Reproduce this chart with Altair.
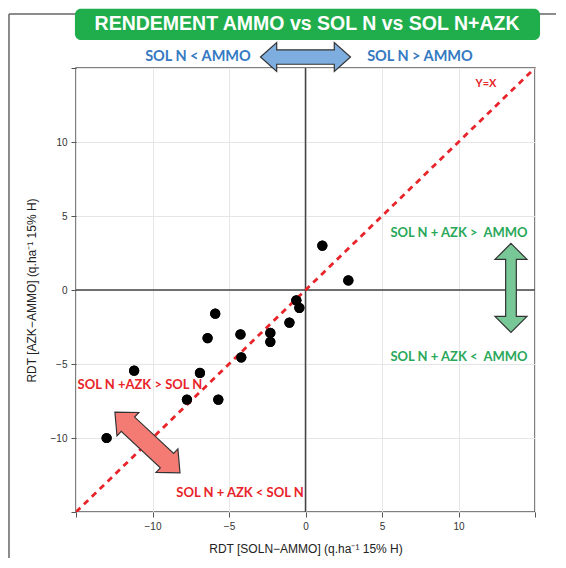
import altair as alt
import pandas as pd

# ---- data ----
x_diff = [1.1, 2.8, -0.6, -0.4, -1.05, -2.3, -2.3, -4.25, -4.2, -5.9, -6.4, -6.9, -7.75, -5.7, -11.2, -13.0]
y_diff = [3.0, 0.65, -0.7, -1.2, -2.2, -2.9, -3.5, -3.0, -4.55, -1.6, -3.25, -5.6, -7.4, -7.4, -5.45, -10.0]

axis_ticks = [-15, -10, -5, 0, 5, 10, 15]
domain = [-15, 15]

title_text = "RENDEMENT AMMO vs SOL N vs SOL N+AZK"
x_title = "RDT [SOLN\u2212AMMO] (q.ha\u207b\u00b9 15% H)"
y_title = "RDT [AZK\u2212AMMO] (q.ha\u207b\u00b9 15% H)"

note_text = ["SOL N < AMMO", "SOL N > AMMO", "Y=X", "SOL N + AZK >\u00a0 AMMO", "SOL N + AZK <\u00a0 AMMO",
             "SOL N +AZK > SOL N", "SOL N + AZK < SOL N"]
note_x = [-7.03, 7.48, 11.8, 10.03, 10.03, -10.82, -4.28]
note_y = [15.74, 15.74, 13.92, 3.85, -4.53, -6.42, -13.72]
note_color = ["#3479c2", "#3479c2", "#e8242a", "#2aa85a", "#2aa85a", "#e8242a", "#e8242a"]
note_size = [14.5, 14.5, 11, 13, 13, 13, 13]

arrow_x = [0.0, 13.43, -10.33]
arrow_y = [15.74, 0.14, -10.3]
arrow_fill = ["#7eaee0", "#78c796", "#f47b74"]
arrow_angle = [0, 90, 43]
arrow_len = [90, 89, 89]
arrow_geom = [(0.36, 0.32, 0.16), (0.36, 0.36, 0.12), (0.40, 0.36, 0.22)]


def dbl_arrow(h, w, s):
    a = -1 + h
    b = 1 - h
    return (f"M -1 0 L {a} {-w} L {a} {-s} L {b} {-s} L {b} {-w} L 1 0 "
            f"L {b} {w} L {b} {s} L {a} {s} L {a} {w} Z")


xs = alt.Scale(domain=domain, nice=False, zero=False)
ys = alt.Scale(domain=domain, nice=False, zero=False)

xax = alt.Axis(values=axis_ticks, labelExpr="abs(datum.value) >= 15 ? '' : datum.label",
               title=x_title, grid=True, gridColor="#e6e6e6", domain=False,
               tickColor="#555", tickSize=5, labelColor="#333", labelFontSize=10,
               labelFont="Liberation Sans", titleFont="Liberation Sans", titleFontSize=12,
               titleFontWeight="normal", titleColor="#222", titlePadding=12, labelPadding=4)
yax = alt.Axis(values=axis_ticks, labelExpr="abs(datum.value) >= 15 ? '' : datum.label",
               title=y_title, grid=True, gridColor="#e6e6e6", domain=False,
               tickColor="#555", tickSize=5, labelColor="#333", labelFontSize=10,
               labelFont="Liberation Sans", titleFont="Liberation Sans", titleFontSize=12,
               titleFontWeight="normal", titleColor="#222", titlePadding=12, labelPadding=4)

pts = pd.DataFrame({"x": x_diff, "y": y_diff})

base_pts = alt.Chart(pts).mark_circle(size=105, color="black", opacity=1).encode(
    x=alt.X("x:Q", scale=xs, axis=xax),
    y=alt.Y("y:Q", scale=ys, axis=yax),
)

diag = alt.Chart(pd.DataFrame({"x": domain, "y": domain})).mark_line(
    color="#e8242a", strokeDash=[6, 5], strokeWidth=2.8, clip=True
).encode(x=alt.X("x:Q", scale=xs), y=alt.Y("y:Q", scale=ys))

zero_v = alt.Chart(pd.DataFrame({"x": [0]})).mark_rule(color="#444", strokeWidth=1.5).encode(
    x=alt.X("x:Q", scale=xs))
zero_h = alt.Chart(pd.DataFrame({"y": [0]})).mark_rule(color="#444", strokeWidth=1.5).encode(
    y=alt.Y("y:Q", scale=ys))

# outer picture frame (left and top edges)
frame_top = alt.Chart(pd.DataFrame({"x": [-19.38], "x2": [17.5], "y": [18.65]})).mark_rule(
    color="#666", strokeWidth=1.5, clip=False).encode(
    x=alt.X("x:Q", scale=xs), x2="x2:Q", y=alt.Y("y:Q", scale=ys))
frame_left = alt.Chart(pd.DataFrame({"x": [-19.38], "y": [18.65], "y2": [-18.7]})).mark_rule(
    color="#666", strokeWidth=1.5, clip=False).encode(
    x=alt.X("x:Q", scale=xs), y=alt.Y("y:Q", scale=ys), y2="y2:Q")

banner = alt.Chart(pd.DataFrame({"x": [-15.07], "x2": [15.33], "y": [19.0], "y2": [16.89]})).mark_rect(
    color="#1fae4b", cornerRadius=6, clip=False).encode(
    x=alt.X("x:Q", scale=xs), x2="x2:Q", y=alt.Y("y:Q", scale=ys), y2="y2:Q")
banner_txt = alt.Chart(pd.DataFrame({"x": [0.1], "y": [17.97], "t": [title_text]})).mark_text(
    color="white", font="Liberation Sans", fontWeight="bold", fontSize=19.5, clip=False,
    align="center", baseline="middle").encode(
    x=alt.X("x:Q", scale=xs), y=alt.Y("y:Q", scale=ys), text="t:N")

arrows_df = pd.DataFrame({
    "x": arrow_x, "y": arrow_y, "fill": arrow_fill, "angle": arrow_angle,
    "size": [l * l for l in arrow_len],
    "shape": [dbl_arrow(*g) for g in arrow_geom],
})
arrows = alt.Chart(arrows_df).mark_point(filled=True, opacity=1, stroke="#333", strokeWidth=1.2,
                                         clip=False).encode(
    x=alt.X("x:Q", scale=xs), y=alt.Y("y:Q", scale=ys),
    fill=alt.Fill("fill:N", scale=None),
    shape=alt.Shape("shape:N", scale=None),
    size=alt.Size("size:Q", scale=None),
    angle=alt.Angle("angle:Q", scale=None),
)

notes_df = pd.DataFrame({"x": note_x, "y": note_y, "t": note_text, "c": note_color, "s": note_size})
notes = alt.Chart(notes_df).mark_text(font="Lato", fontWeight="bold", align="center",
                                      baseline="middle", clip=False).encode(
    x=alt.X("x:Q", scale=xs), y=alt.Y("y:Q", scale=ys), text="t:N",
    color=alt.Color("c:N", scale=None), size=alt.Size("s:Q", scale=None))

chart = alt.layer(
    base_pts, zero_v, zero_h, diag, base_pts, arrows, notes, frame_top, frame_left, banner, banner_txt
).properties(
    width=459, height=444,
    autosize=alt.AutoSizeParams(type="none"),
    padding={"left": 68, "top": 60, "right": 21, "bottom": 46},
    background="white",
).configure_view(stroke="#555", strokeWidth=1.5)

chart.save("out.html", embed_options={"renderer": "svg", "actions": False})
